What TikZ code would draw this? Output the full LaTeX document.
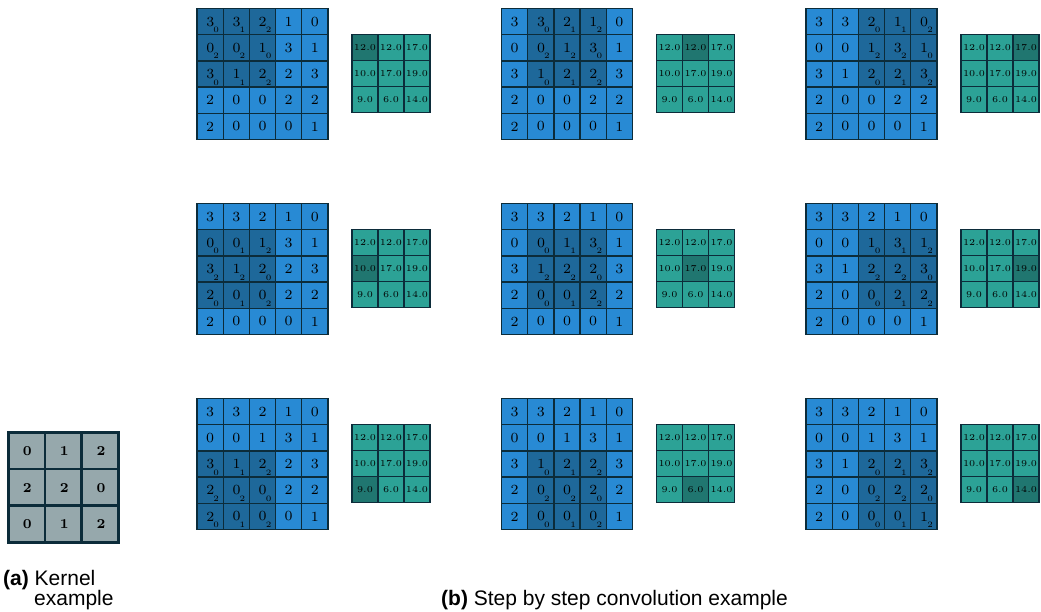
\documentclass[tikz,border=0pt]{standalone}
\usepackage{fontspec}
\usepackage{graphicx}
\newfontfamily\capfont{Liberation Sans}
\definecolor{cellblue}{RGB}{40,138,212}
\definecolor{winblue}{RGB}{30,104,154}
\definecolor{gridline}{RGB}{12,44,58}
\definecolor{outteal}{RGB}{44,162,150}
\definecolor{winteal}{RGB}{32,118,112}
\definecolor{kergray}{RGB}{150,168,172}
\tikzset{
  incell/.style={draw=gridline, line width=1.3pt, minimum size=26.2pt, inner sep=0pt, outer sep=0pt},
  outcell/.style={draw=gridline, line width=1.3pt, minimum size=26pt, inner sep=0pt, outer sep=0pt},
  kcell/.style={draw=gridline, line width=2.6pt, fill=kergray, minimum size=36.8pt, inner sep=0pt, outer sep=0pt},
  val/.style={inner sep=0pt, outer sep=0pt},
  captext/.style={anchor=base west, inner sep=0pt, font=\capfont\fontsize{21}{24}\selectfont},
}
\begin{document}
\begin{tikzpicture}[x=1pt,y=-1pt]
\useasboundingbox (0,0) rectangle (1041,612);
% input matrix (row major) and kernel weights
\def\Inp{{3,3,2,1,0,0,0,1,3,1,3,1,2,2,3,2,0,0,2,2,2,0,0,0,1}}
\def\Ker{{0,1,2,2,2,0,0,1,2}}
% one panel per window position
\foreach \pr in {0,1,2}{
  \foreach \pc in {0,1,2}{
    \pgfmathsetmacro\X{197+304.5*\pc}
    \pgfmathsetmacro\Y{8.5+195*\pr}
    \foreach \i in {0,...,4}{
      \foreach \j in {0,...,4}{
        \pgfmathtruncatemacro\v{\Inp[5*\i+\j]}
        \pgfmathtruncatemacro\w{(\i>=\pr)&&(\i<=\pr+2)&&(\j>=\pc)&&(\j<=\pc+2)}
        \ifnum\w=1
          \pgfmathtruncatemacro\k{\Ker[3*(\i-\pr)+(\j-\pc)]}
          \node[incell, fill=winblue] (in-\pr\pc-\i\j) at (\X+26.2*\j+13.1, \Y+26.2*\i+13.1) {};
          \node[val] (v-\pr\pc-\i\j) at ([xshift=0.2pt]in-\pr\pc-\i\j.center) {\scalebox{2}{\scriptsize\v}};
          \node[val] (s-\pr\pc-\i\j) at ([xshift=6.2pt,yshift=-8.4pt]in-\pr\pc-\i\j.center) {\scalebox{1.65}{\tiny\k}};
        \else
          \node[incell, fill=cellblue] (in-\pr\pc-\i\j) at (\X+26.2*\j+13.1, \Y+26.2*\i+13.1) {};
          \node[val] (v-\pr\pc-\i\j) at (in-\pr\pc-\i\j.center) {\scalebox{2}{\scriptsize\v}};
        \fi
      }
    }
    \draw[gridline, line width=1.8pt] (in-\pr\pc-00.north west) rectangle (in-\pr\pc-44.south east);
    % feature map
    \pgfmathsetmacro\OX{\X+155}
    \pgfmathsetmacro\OY{\Y+26}
    \foreach \i/\j/\t in {0/0/12.0, 0/1/12.0, 0/2/17.0, 1/0/10.0, 1/1/17.0, 1/2/19.0, 2/0/9.0, 2/1/6.0, 2/2/14.0}{
      \pgfmathtruncatemacro\w{(\i==\pr)&&(\j==\pc)}
      \ifnum\w=1 \def\fc{winteal}\else\def\fc{outteal}\fi
      \node[outcell, fill=\fc] (out-\pr\pc-\i\j) at (\OX+26*\j+13, \OY+26*\i+13) {\scalebox{1.8}{\tiny\t}};
    }
    \draw[gridline, line width=1.6pt] (out-\pr\pc-00.north west) rectangle (out-\pr\pc-22.south east);
  }
}
% kernel
\foreach \i in {0,1,2}{
  \foreach \j in {0,1,2}{
    \pgfmathtruncatemacro\k{\Ker[3*\i+\j]}
    \node[kcell] (k-\i\j) at (8+36.8*\j+18.4, 432+36.8*\i+18.4) {};
    \node[val] (kv-\i\j) at ([xshift=1pt,yshift=-0.5pt]k-\i\j.center) {\scalebox{1.95}{\scriptsize\bfseries\k}};
  }
}
\draw[gridline, line width=3pt] (k-00.north west) rectangle (k-22.south east);
% captions
\node[captext] (capa) at (3,585) {\textbf{(a)} Kernel};
\node[captext] (capa2) at (34,605) {example};
\node[captext] (capb) at (441,605) {\textbf{(b)} Step by step convolution example};
\end{tikzpicture}
\end{document}
